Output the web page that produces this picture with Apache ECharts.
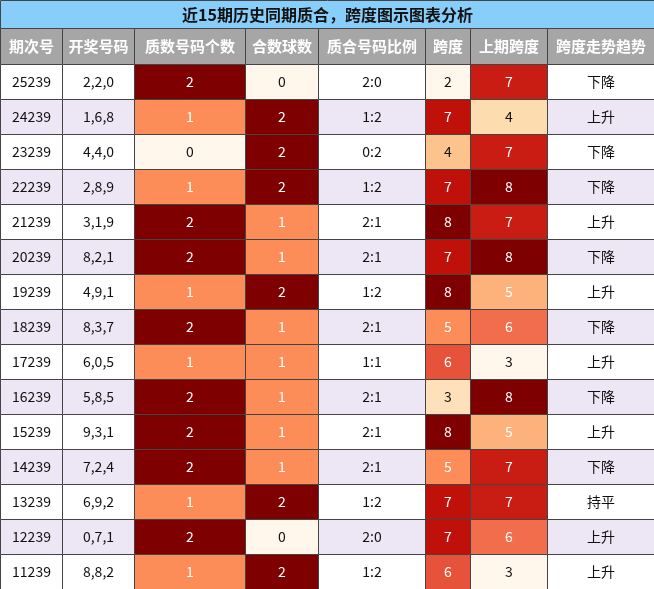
<!DOCTYPE html>
<html><head><meta charset="utf-8">
<script src="https://cdn.jsdelivr.net/npm/echarts@6/dist/echarts.min.js"></script>
<style>html,body{margin:0;padding:0;background:#fff}#c{width:654px;height:589px}</style>
</head><body><div id="c"></div>
<script>
const title = '近15期历史同期质合，跨度图示图表分析'
const headers = ['期次号', '开奖号码', '质数号码个数', '合数球数', '质合号码比例', '跨度', '上期跨度', '跨度走势趋势']
const issues = ['25239','24239','23239','22239','21239','20239','19239','18239','17239','16239','15239','14239','13239','12239','11239']
const draws = ['2,2,0','1,6,8','4,4,0','2,8,9','3,1,9','8,2,1','4,9,1','8,3,7','6,0,5','5,8,5','9,3,1','7,2,4','6,9,2','0,7,1','8,8,2']
const primes = [2,1,0,1,2,2,1,2,1,2,2,2,1,2,1]
const composites = [0,2,2,2,1,1,2,1,1,1,1,1,2,0,2]
const ratios = ['2:0','1:2','0:2','1:2','2:1','2:1','1:2','2:1','1:1','2:1','2:1','2:1','1:2','2:0','1:2']
const spans = [2,7,4,7,8,7,8,5,6,3,8,5,7,7,6]
const prevSpans = [7,4,7,8,7,8,5,6,3,8,5,7,7,6,3]
const trends = ['下降','上升','下降','下降','上升','下降','上升','下降','上升','下降','上升','下降','持平','上升','上升']

const colEdges = [0, 62, 134, 245, 318, 425, 470, 547, 654]
const titleH = 28, headH = 36, rowH = 35

const stops = ['#fff7ec','#fee8c8','#fdd49e','#fdbb84','#fc8d59','#ef6548','#d7301f','#b30000','#7f0000']
function hex(c){return [1,3,5].map(i=>parseInt(c.substr(i,2),16))}
function scale(v, lo, hi){
  const t = Math.max(0, Math.min(1, (v-lo)/(hi-lo))) * (stops.length-1)
  const i = Math.min(stops.length-2, Math.floor(t)), f = t-i
  const a = hex(stops[i]), b = hex(stops[i+1])
  return 'rgb(' + a.map((x,k)=>Math.round(x+(b[k]-x)*f)).join(',') + ')'
}
function light(v, lo, hi){ return (v-lo)/(hi-lo) < 0.35 }

const cells = []
// title
cells.push({value:[0, 8, -2], text:title, fill:'#87cefa', color:'#111', bold:true, size:16})
headers.forEach((h,c)=>cells.push({value:[c, c+1, -1], text:h, fill:'#a6a6a6', color:'#fff', bold:true, size:15}))
issues.forEach((_, r)=>{
  const bg = r % 2 ? '#ece6f5' : '#ffffff'
  const plain = (c, t) => cells.push({value:[c, c+1, r], text:t, fill:bg, color:'#111', size:14})
  const heat = (c, v, lo, hi) => cells.push({value:[c, c+1, r], text:String(v), fill:scale(v,lo,hi), color: light(v,lo,hi)?'#111':'#fff', size:14})
  plain(0, issues[r]); plain(1, draws[r])
  heat(2, primes[r], 0, 2); heat(3, composites[r], 0, 2)
  plain(4, ratios[r])
  heat(5, spans[r], 2, 8); heat(6, prevSpans[r], 3, 8)
  plain(7, trends[r])
})
function rowTop(r){ return r === -2 ? 0 : r === -1 ? titleH : titleH + headH + r*rowH }
function rowBot(r){ return r === -2 ? titleH : r === -1 ? titleH+headH : titleH + headH + (r+1)*rowH }

const chart = echarts.init(document.getElementById('c'))
chart.setOption({
  animation:false,
  grid:{left:0, top:0, width:654, height:589},
  xAxis:{type:'value', min:0, max:654, show:false},
  yAxis:{type:'value', min:0, max:589, inverse:true, show:false},
  series:[{
    type:'custom', data:cells,
    renderItem(params, api){
      const d = cells[params.dataIndex]
      const p0 = api.coord([colEdges[d.value[0]], rowTop(d.value[2])])
      const p1 = api.coord([colEdges[d.value[1]], rowBot(d.value[2])])
      return {type:'rect', shape:{x:p0[0]+0.5, y:p0[1]+0.5, width:p1[0]-p0[0], height:p1[1]-p0[1]},
        style:{fill:d.fill, stroke:'#444', lineWidth:1,
          text:d.text, textFill:d.color, textPosition:'inside',
          fontSize:d.size, fontWeight:d.bold?'bold':'normal', fontFamily:'Noto Sans CJK SC, Arial'}}
    }
  }]
})
</script></body></html>
